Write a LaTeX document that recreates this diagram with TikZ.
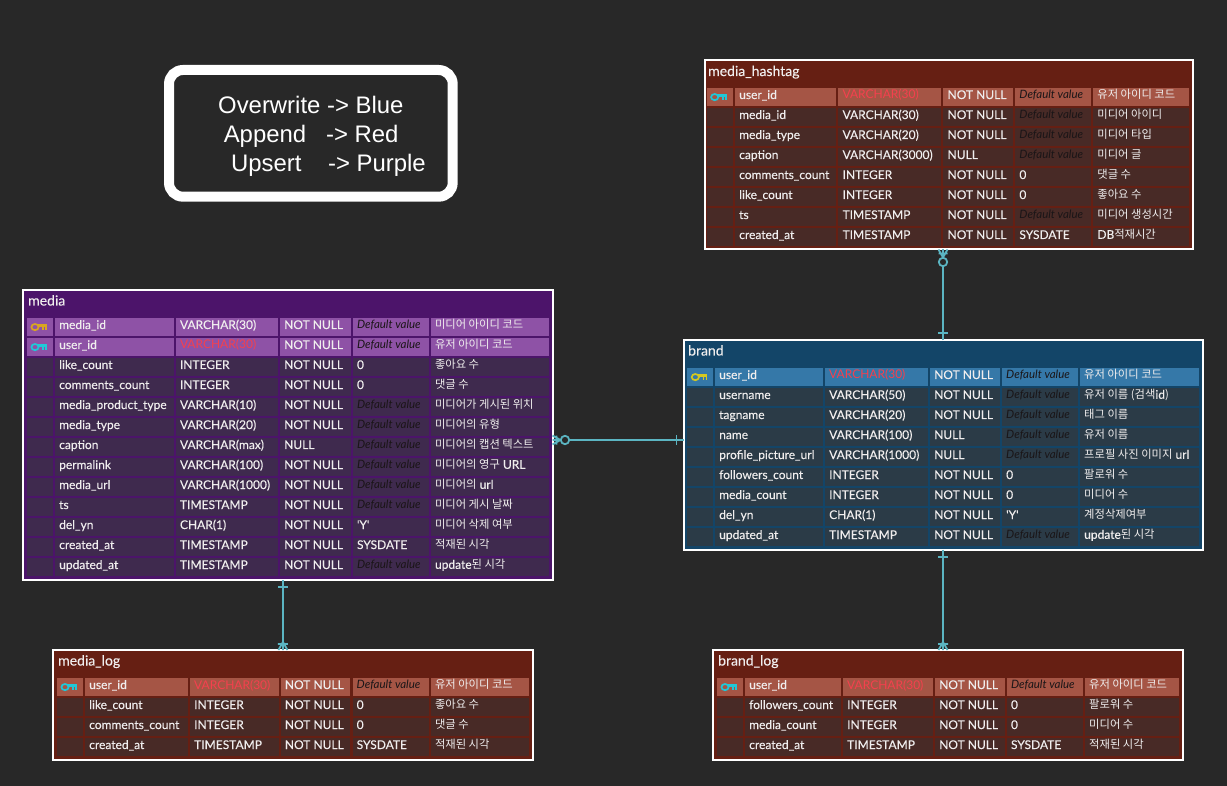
\documentclass[tikz,border=0pt]{standalone}
\usepackage{fontspec}
\usetikzlibrary{calc}
\newfontfamily\cellfont{Lato}[FakeBold=0.08]
\newfontfamily\thinfont{Lato}
\newfontfamily\krfont{Noto Sans CJK KR}
\newfontfamily\legendfont{Liberation Sans}
\definecolor{bgcol}{HTML}{282828}
\definecolor{relcol}{HTML}{5BB5C2}
\definecolor{textcol}{HTML}{F0EEEE}
\definecolor{fkcol}{HTML}{F5404E}
\definecolor{nodefcol}{HTML}{1A1517}
\definecolor{purplehead}{HTML}{4C146A}
\definecolor{purplekey}{HTML}{8E52A6}
\definecolor{purplecell}{HTML}{3F2A4E}
\definecolor{redhead}{HTML}{661F13}
\definecolor{redkey}{HTML}{A55545}
\definecolor{redcell}{HTML}{482A26}
\definecolor{bluehead}{HTML}{134568}
\definecolor{bluekey}{HTML}{3578A8}
\definecolor{bluecell}{HTML}{2B3B47}
\definecolor{goldkey}{HTML}{D9A520}
\definecolor{cyankey}{HTML}{1FC8D8}
\definecolor{yellowkey}{HTML}{D4C820}
\tikzset{
	tablebox/.style={draw=white, line width=2pt, anchor=north west, inner sep=0pt, outer sep=0pt},
	tabletitle/.style={anchor=base west, inner sep=0pt, text=textcol, font=\cellfont\fontsize{14}{16}\selectfont},
	celltext/.style={anchor=base west, inner sep=0pt, text=textcol, font=\cellfont\fontsize{12}{14}\selectfont},
	plaincell/.style={fill=cellbg},
	keycell/.style={fill=keybg},
	relline/.style={draw=relcol, line width=1.8pt},
	legendbox/.style={draw=white, line width=10pt, rounded corners=14pt, anchor=north west, inner sep=0pt, outer sep=0pt},
	legendtext/.style={anchor=base west, inner sep=0pt, text=white, font=\legendfont\fontsize{23.9}{26}\selectfont},
	onebar/.pic={
		\draw[relline, line width=2.4pt] (0,0) -- (20,0);
		\draw[relline] (7,-5) -- (7,5);
	},
	zeromany/.pic={
		\draw[relline] (8,0) -- (0,-4.5) (8,0) -- (0,4.5) (0,0) -- (8,0) (4,-4.5) -- (4,4.5);
		\draw[relline, fill=bgcol] (12.5,0) circle (4.2);
	},
	onemany/.pic={
		\draw[relline] (8,0) -- (0,-4.5) (8,0) -- (0,4.5) (0,0) -- (8,0) (6,-5) -- (6,5);
	}
}
\def\kr#1{{\krfont\fontsize{11.3}{14}\selectfont #1}}
\def\fk#1{{\thinfont\color{fkcol}#1}}
\def\nodef{\raisebox{0.7pt}{\thinfont\color{nodefcol}\itshape\fontsize{11.5}{14}\selectfont Default value}}
\def\tablecols(#1:#2,#3,#4,#5,#6,#7,#8){\def\topY{#1}\def\cKey{#2}\def\cName{#3}\def\cType{#4}\def\cNull{#5}\def\cDef{#6}\def\cCmt{#7}\def\cEnd{#8}}
\def\cellbox[#1](#2:#3){\fill[#1] (#2,\rowY) rectangle ({#3-2.2},{\rowY+18.4});}
\def\fieldrow[#1]#2#3#4#5#6#7#8{
	\pgfmathsetmacro\rowY{\topY+20*(#3-1)}
	\cellbox[#1](\cKey:\cName)
	\cellbox[#1](\cName:\cType)
	\cellbox[#1](\cType:\cNull)
	\cellbox[#1](\cNull:\cDef)
	\cellbox[#1](\cDef:\cCmt)
	\cellbox[#1](\cCmt:\cEnd)
	\node[celltext] (#2-#3-name) at ({\cName+4},{\rowY+11.3}) {#4};
	\node[celltext] (#2-#3-type) at ({\cType+4},{\rowY+11.3}) {#5};
	\node[celltext] (#2-#3-null) at ({\cNull+4},{\rowY+11.3}) {#6};
	\node[celltext] (#2-#3-def) at ({\cDef+4},{\rowY+11.3}) {#7};
	\node[celltext] (#2-#3-cmt) at ({\cCmt+4},{\rowY+11.1}) {#8};
}
\def\keyicon[#1](#2,#3){
	\draw[#1, line width=1.7pt] ({#2+8},{#3+9.4}) ellipse (3.6 and 3.1);
	\fill[#1] ({#2+11},{#3+6.4}) rectangle ({#2+20},{#3+9});
	\fill[#1] ({#2+15.4},{#3+8}) rectangle ({#2+17},{#3+12.2});
	\fill[#1] ({#2+18.4},{#3+8}) rectangle ({#2+20},{#3+12.2});
}

\begin{document}
\begin{tikzpicture}[x=1pt, y=-1pt]
	%%%%% START %%%%%

	\useasboundingbox (0,0) rectangle (1227,786);
	\fill[bgcol] (0,0) rectangle (1227,786);

	\node[legendbox, minimum width=283.7pt, minimum height=126.7pt] (legend) at (169,70) {};
	\node[legendtext] (legend-a) at (218,113.3) {Overwrite -> Blue};
	\node[legendtext] (legend-b) at (223.6,142.6) {Append~~~-> Red};
	\node[legendtext] (legend-c) at (231,171.6) {Upsert~~~~-> Purple};

	%%%%% media_hashtag %%%%%
	\colorlet{cellbg}{redcell}
	\colorlet{keybg}{redkey}
	\node[tablebox, fill=redhead, minimum width=488.5pt, minimum height=189.5pt] (hashtag) at (704.5,60) {};
	\node[tabletitle] (hashtag-title) at (708,76) {media\_hashtag};
	\tablecols(87.7:706.7,735,838.4,943.4,1015.2,1093.2,1191.2)
	\fieldrow[keycell]{hashtag}{1}{user\_id}{\fk{VARCHAR(30)}}{NOT NULL}{\nodef}{\kr{유저 아이디 코드}}
	\fieldrow[plaincell]{hashtag}{2}{media\_id}{VARCHAR(30)}{NOT NULL}{\nodef}{\kr{미디어 아이디}}
	\fieldrow[plaincell]{hashtag}{3}{media\_type}{VARCHAR(20)}{NOT NULL}{\nodef}{\kr{미디어 타입}}
	\fieldrow[plaincell]{hashtag}{4}{caption}{VARCHAR(3000)}{NULL}{\nodef}{\kr{미디어 글}}
	\fieldrow[plaincell]{hashtag}{5}{comments\_count}{INTEGER}{NOT NULL}{0}{\kr{댓글 수}}
	\fieldrow[plaincell]{hashtag}{6}{like\_count}{INTEGER}{NOT NULL}{0}{\kr{좋아요 수}}
	\fieldrow[plaincell]{hashtag}{7}{ts}{TIMESTAMP}{NOT NULL}{\nodef}{\kr{미디어 생성시간}}
	\fieldrow[plaincell]{hashtag}{8}{created\_at}{TIMESTAMP}{NOT NULL}{SYSDATE}{DB\kr{적재시간}}
	\keyicon[cyankey](706.7,87.7)

	%%%%% media %%%%%
	\colorlet{cellbg}{purplecell}
	\colorlet{keybg}{purplekey}
	\node[tablebox, fill=purplehead, minimum width=529.5pt, minimum height=290pt] (media) at (23,290.3) {};
	\node[tabletitle] (media-title) at (28,305.5) {media};
	\tablecols(317.7:27,55,175.8,280,352.8,430.8,551.4)
	\fieldrow[keycell]{media}{1}{media\_id}{VARCHAR(30)}{NOT NULL}{\nodef}{\kr{미디어 아이디 코드}}
	\fieldrow[keycell]{media}{2}{user\_id}{\fk{VARCHAR(30)}}{NOT NULL}{\nodef}{\kr{유저 아이디 코드}}
	\fieldrow[plaincell]{media}{3}{like\_count}{INTEGER}{NOT NULL}{0}{\kr{좋아요 수}}
	\fieldrow[plaincell]{media}{4}{comments\_count}{INTEGER}{NOT NULL}{0}{\kr{댓글 수}}
	\fieldrow[plaincell]{media}{5}{media\_product\_type}{VARCHAR(10)}{NOT NULL}{\nodef}{\kr{미디어가 게시된 위치}}
	\fieldrow[plaincell]{media}{6}{media\_type}{VARCHAR(20)}{NOT NULL}{\nodef}{\kr{미디어의 유형}}
	\fieldrow[plaincell]{media}{7}{caption}{VARCHAR(max)}{NULL}{\nodef}{\kr{미디어의 캡션 텍스트}}
	\fieldrow[plaincell]{media}{8}{permalink}{VARCHAR(100)}{NOT NULL}{\nodef}{\kr{미디어의 영구} URL}
	\fieldrow[plaincell]{media}{9}{media\_url}{VARCHAR(1000)}{NOT NULL}{\nodef}{\kr{미디어의} url}
	\fieldrow[plaincell]{media}{10}{ts}{TIMESTAMP}{NOT NULL}{\nodef}{\kr{미디어 게시 날짜}}
	\fieldrow[plaincell]{media}{11}{del\_yn}{CHAR(1)}{NOT NULL}{'Y'}{\kr{미디어 삭제 여부}}
	\fieldrow[plaincell]{media}{12}{created\_at}{TIMESTAMP}{NOT NULL}{SYSDATE}{\kr{적재된 시각}}
	\fieldrow[plaincell]{media}{13}{updated\_at}{TIMESTAMP}{NOT NULL}{\nodef}{update\kr{된 시각}}
	\keyicon[goldkey](27,317.7)
	\keyicon[cyankey](27,337.7)

	%%%%% brand %%%%%
	\colorlet{cellbg}{bluecell}
	\colorlet{keybg}{bluekey}
	\node[tablebox, fill=bluehead, minimum width=519pt, minimum height=209.5pt] (brand) at (683.5,340.3) {};
	\node[tabletitle] (brand-title) at (688,355.5) {brand};
	\tablecols(367.7:687.3,715,825,930,1002,1080,1201)
	\fieldrow[keycell]{brand}{1}{user\_id}{\fk{VARCHAR(30)}}{NOT NULL}{\nodef}{\kr{유저 아이디 코드}}
	\fieldrow[plaincell]{brand}{2}{username}{VARCHAR(50)}{NOT NULL}{\nodef}{\kr{유저 이름 (검색}id\kr{)}}
	\fieldrow[plaincell]{brand}{3}{tagname}{VARCHAR(20)}{NOT NULL}{\nodef}{\kr{태그 이름}}
	\fieldrow[plaincell]{brand}{4}{name}{VARCHAR(100)}{NULL}{\nodef}{\kr{유저 이름}}
	\fieldrow[plaincell]{brand}{5}{profile\_picture\_url}{VARCHAR(1000)}{NULL}{\nodef}{\kr{프로필 사진 이미지} url}
	\fieldrow[plaincell]{brand}{6}{followers\_count}{INTEGER}{NOT NULL}{0}{\kr{팔로워 수}}
	\fieldrow[plaincell]{brand}{7}{media\_count}{INTEGER}{NOT NULL}{0}{\kr{미디어 수}}
	\fieldrow[plaincell]{brand}{8}{del\_yn}{CHAR(1)}{NOT NULL}{'Y'}{\kr{계정삭제여부}}
	\fieldrow[plaincell]{brand}{9}{updated\_at}{TIMESTAMP}{NOT NULL}{\nodef}{update\kr{된 시각}}
	\keyicon[yellowkey](687.3,367.7)

	%%%%% media_log %%%%%
	\colorlet{cellbg}{redcell}
	\colorlet{keybg}{redkey}
	\node[tablebox, fill=redhead, minimum width=480pt, minimum height=110pt] (medialog) at (53,650) {};
	\node[tabletitle] (medialog-title) at (58,665.5) {media\_log};
	\tablecols(677.7:57,85,190,280.7,352.5,430.8,531.5)
	\fieldrow[keycell]{medialog}{1}{user\_id}{\fk{VARCHAR(30)}}{NOT NULL}{\nodef}{\kr{유저 아이디 코드}}
	\fieldrow[plaincell]{medialog}{2}{like\_count}{INTEGER}{NOT NULL}{0}{\kr{좋아요 수}}
	\fieldrow[plaincell]{medialog}{3}{comments\_count}{INTEGER}{NOT NULL}{0}{\kr{댓글 수}}
	\fieldrow[plaincell]{medialog}{4}{created\_at}{TIMESTAMP}{NOT NULL}{SYSDATE}{\kr{적재된 시각}}
	\keyicon[cyankey](57,677.7)

	%%%%% brand_log %%%%%
	\node[tablebox, fill=redhead, minimum width=470pt, minimum height=110pt] (brandlog) at (713,650) {};
	\node[tabletitle] (brandlog-title) at (718,665.5) {brand\_log};
	\tablecols(677.7:717,745,843,935,1006.8,1085,1181.5)
	\fieldrow[keycell]{brandlog}{1}{user\_id}{\fk{VARCHAR(30)}}{NOT NULL}{\nodef}{\kr{유저 아이디 코드}}
	\fieldrow[plaincell]{brandlog}{2}{followers\_count}{INTEGER}{NOT NULL}{0}{\kr{팔로워 수}}
	\fieldrow[plaincell]{brandlog}{3}{media\_count}{INTEGER}{NOT NULL}{0}{\kr{미디어 수}}
	\fieldrow[plaincell]{brandlog}{4}{created\_at}{TIMESTAMP}{NOT NULL}{SYSDATE}{\kr{적재된 시각}}
	\keyicon[cyankey](717,677.7)

	%%%%% connectors %%%%%
	\draw[relline] (hashtag.south -| brand.north) -- (brand.north)
		pic[pos=0, rotate=-90] {zeromany} pic[pos=1, rotate=90] {onebar};
	\draw[relline] ([yshift=-4.7pt]media.east) -- ([yshift=-4.7pt]media.east -| brand.west)
		pic[pos=0] {zeromany} pic[pos=1, rotate=180] {onebar};
	\draw[relline] ([xshift=-4.8pt]media.south) -- ([xshift=-4.8pt]media.south |- medialog.north)
		pic[pos=0, rotate=-90] {onebar} pic[pos=1, rotate=90] {onemany};
	\draw[relline] (brand.south) -- (brand.south |- brandlog.north)
		pic[pos=0, rotate=-90] {onebar} pic[pos=1, rotate=90] {onemany};

	%%%%% END %%%%%
\end{tikzpicture}
\end{document}
